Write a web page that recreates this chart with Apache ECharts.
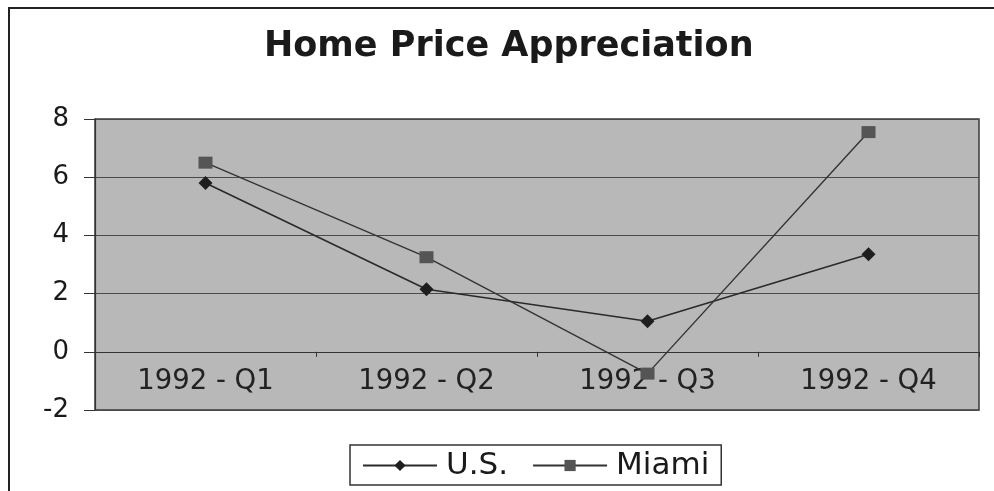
<!DOCTYPE html>
<html>
<head>
<meta charset="utf-8">
<title>Home Price Appreciation</title>
<script src="https://cdn.jsdelivr.net/npm/echarts@6/dist/echarts.min.js"></script>
<style>
  html, body { margin: 0; padding: 0; background: #fff; }
  #chart { width: 994px; height: 491px; }
</style>
</head>
<body>
<div id="chart"></div>
<script>
// data
var quarters = ['1992 - Q1', '1992 - Q2', '1992 - Q3', '1992 - Q4'];
var usValues = [5.8, 2.15, 1.05, 3.35];
var miamiValues = [6.5, 3.25, -0.75, 7.55];
var yTicks = { min: -2, max: 8, step: 2 };

var chart = echarts.init(document.getElementById('chart'));
var font = 'DejaVu Sans, Liberation Sans, sans-serif';

// plot is 119..410 px tall for -2..8, so the zero line sits this far above the bottom
var plotTop = 119, plotBottom = 410;
var zeroOffset = (plotBottom - plotTop) * (0 - yTicks.min) / (yTicks.max - yTicks.min);

chart.setOption({
    animation: false,
    backgroundColor: '#fff',
    title: {
        text: 'Home Price Appreciation',
        left: 259,
        top: 24,
        textStyle: { fontSize: 35, fontWeight: 'bold', color: '#1a1a1a', fontFamily: font }
    },
    // outer chart frame
    graphic: [{
        type: 'rect',
        shape: { x: 9, y: 8, width: 1000, height: 500 },
        style: { fill: 'none', stroke: '#222', lineWidth: 2 },
        silent: true
    }],
    legend: {
        left: 350,
        top: 445,
        padding: [5, 12, 4, 12],
        itemGap: 24,
        itemWidth: 74,
        itemHeight: 14,
        borderColor: '#333',
        borderWidth: 1.5,
        backgroundColor: '#fff',
        textStyle: { fontSize: 31, color: '#1a1a1a', fontFamily: font, padding: [0, 0, 0, 4] },
        data: ['U.S.', 'Miami']
    },
    grid: {
        left: 95,
        right: 15,
        top: plotTop,
        bottom: 491 - plotBottom,
        show: true,
        backgroundColor: '#b8b8b8',
        borderColor: '#3a3a3a',
        borderWidth: 1.5
    },
    xAxis: {
        type: 'category',
        data: quarters,
        boundaryGap: true,
        offset: -zeroOffset,
        axisLine: { show: true, onZero: false, lineStyle: { color: '#333', width: 1.2 } },
        axisTick: { show: true, length: 5, lineStyle: { color: '#333' } },
        axisLabel: { fontSize: 27.5, color: '#222', margin: 16, fontFamily: font },
        splitLine: { show: false }
    },
    yAxis: {
        type: 'value',
        min: yTicks.min,
        max: yTicks.max,
        interval: yTicks.step,
        axisLine: { show: true, lineStyle: { color: '#333', width: 1.2 } },
        axisTick: { show: true, length: 11, lineStyle: { color: '#333' } },
        axisLabel: { fontSize: 26, color: '#1a1a1a', margin: 26, fontFamily: font },
        splitLine: { show: true, lineStyle: { color: '#4a4a4a', width: 1.2 } }
    },
    series: [{
        name: 'U.S.',
        type: 'line',
        data: usValues,
        symbol: 'diamond',
        symbolSize: 14,
        itemStyle: { color: '#1e1e1e' },
        lineStyle: { color: '#2a2a2a', width: 1.6 }
    }, {
        name: 'Miami',
        type: 'line',
        data: miamiValues,
        symbol: 'rect',
        symbolSize: [14, 12],
        itemStyle: { color: '#555' },
        lineStyle: { color: '#333', width: 1.4 }
    }]
});
</script>
</body>
</html>
